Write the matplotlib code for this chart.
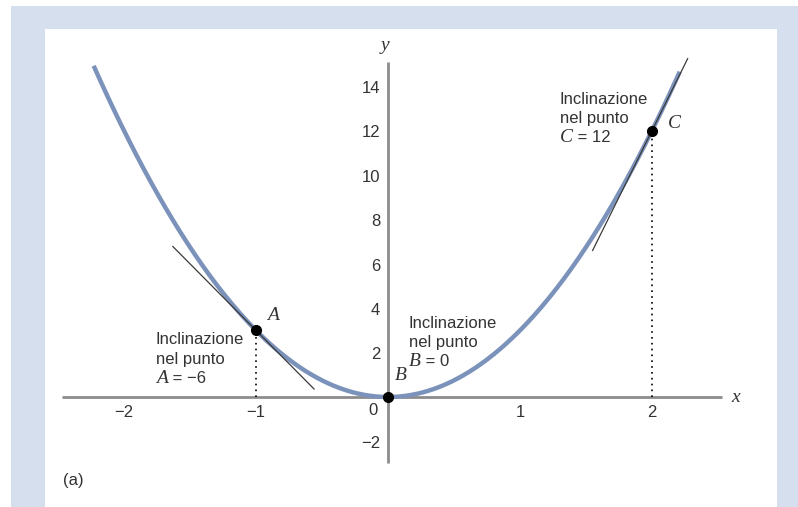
import numpy as np
import matplotlib.pyplot as plt
from matplotlib.patches import Rectangle
from matplotlib.transforms import offset_copy

# parabola y = k x^2 and the three marked points
k = 3.0
curve_range = [-2.23, 2.21]
pt_names = ["A", "B", "C"]
pt_x = [-1.0, 0.0, 2.0]
pt_y = [3.0, 0.0, 12.0]
slopes = [-6, 0, 12]
# extent of the drawn tangent segments at A and C
tan_A = [-1.63, -0.56]
tan_C = [1.55, 2.27]

xticks = [-2, -1, 1, 2]
yticks = [-2, 2, 4, 6, 8, 10, 12, 14]

sans = "Liberation Sans"
serif = "Liberation Serif"
txt = "#333333"

fig = plt.figure(figsize=(7.98, 5.07), dpi=100)
fig.patches.append(Rectangle((0.0138, 0), 0.99, 0.988, transform=fig.transFigure,
                             facecolor="#d6dfee", edgecolor="none", zorder=-2))
fig.patches.append(Rectangle((0.0564, 0), 0.9173, 0.9428, transform=fig.transFigure,
                             facecolor="white", edgecolor="none", zorder=-1))

ax = fig.add_axes([0, 0, 1, 1])
ax.set_zorder(1)
ax.set_facecolor("none")
ax.set_xlim(-388 / 132, (798 - 388) / 132)
ax.set_ylim((397 - 507) / 22.2, 397 / 22.2)
ax.axis("off")

# axes
ax.plot([-2.47, 2.53], [0, 0], color="#8c8c8c", lw=2, zorder=1, solid_capstyle="butt")
ax.plot([0, 0], [-2.97, 15.1], color="#8c8c8c", lw=2, zorder=1, solid_capstyle="butt")
ax.text(2.63, 0, "x", fontfamily=serif, fontstyle="italic", fontsize=14,
        color=txt, ha="center", va="center")
ax.text(-0.02, 15.85, "y", fontfamily=serif, fontstyle="italic", fontsize=14,
        color=txt, ha="center", va="center")

for t in xticks:
    lab = f"\u2212{abs(t)}" if t < 0 else str(t)
    ax.text(t, -0.68, lab, fontfamily=sans, fontsize=12, color=txt,
            ha="center", va="center")
ax.text(-0.11, -0.6, "0", fontfamily=sans, fontsize=12, color=txt,
        ha="center", va="center")
for t in yticks:
    lab = f"\u2212{abs(t)}" if t < 0 else str(t)
    ax.text(-0.06, t - 0.1, lab, fontfamily=sans, fontsize=12, color=txt,
            ha="right", va="center")

# curve
xs = np.linspace(curve_range[0], curve_range[1], 400)
ax.plot(xs, k * xs ** 2, color="#7b92bb", lw=3.2, zorder=2, solid_capstyle="butt")

# tangents
for (xa, xb), i in [(tan_A, 0), (tan_C, 2)]:
    tx = np.array([xa, xb])
    ax.plot(tx, pt_y[i] + slopes[i] * (tx - pt_x[i]), color="#3a3a3a", lw=0.9, zorder=3)

# dotted drop lines
for i in [0, 2]:
    ax.plot([pt_x[i], pt_x[i]], [0, pt_y[i]], color="black", lw=1.2,
            ls=(0, (1, 2.5)), zorder=3)

ax.plot(pt_x, pt_y, "o", color="black", ms=7, zorder=4, ls="none")

# point names
for name, (lx, ly) in zip(pt_names, [(-0.87, 3.69), (0.10, 0.95), (2.17, 12.3)]):
    ax.text(lx, ly, name, fontfamily=serif, fontstyle="italic", fontsize=14,
            color=txt, ha="center", va="center")

renderer = fig.canvas.get_renderer()

# slope captions, one line at a time; the point name is set in italic serif
def caption(x, y, name, slope, step=0.87):
    val = f"\u2212{abs(slope)}" if slope < 0 else str(slope)
    for j, s in enumerate(["Inclinazione", "nel punto"]):
        ax.text(x, y - j * step, s, fontfamily=sans, fontsize=12,
                color=txt, ha="left", va="center")
    t = ax.text(x, y - 2 * step, name, fontfamily=serif, fontstyle="italic",
                fontsize=14, color=txt, ha="left", va="center")
    w = t.get_window_extent(renderer).width
    ax.text(x, y - 2 * step, f" = {val}", fontfamily=sans, fontsize=12, color=txt,
            ha="left", va="center",
            transform=offset_copy(ax.transData, fig=fig, x=w, y=0, units="dots"))

caption(-1.758, 2.57, "A", slopes[0])
caption(0.159, 3.33, "B", slopes[1])
caption(1.303, 13.42, "C", slopes[2])

ax.text(-2.46, -3.75, "(a)", fontfamily=sans, fontsize=12, color=txt,
        ha="left", va="center")

fig.savefig("out.png", dpi=100)
